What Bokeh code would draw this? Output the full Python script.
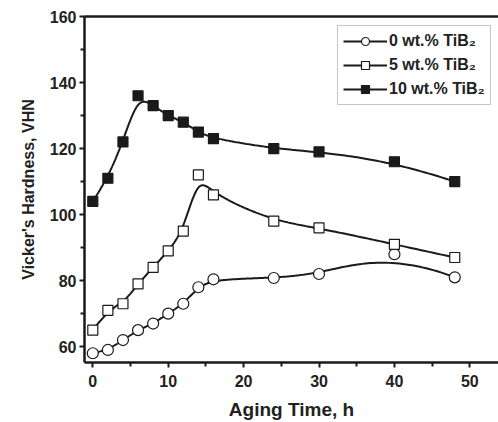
import numpy as np
from bokeh.plotting import figure
from bokeh.models import Range1d, LinearAxis, Legend, LegendItem, FixedTicker
from bokeh.embed import file_html
from bokeh.resources import INLINE

# data
time_h = [0, 2, 4, 6, 8, 10, 12, 14, 16, 24, 30, 40, 48]
tib2_0 = [58, 59, 62, 65, 67, 70, 73, 78, 80.4, 80.8, 82, 88, 81]
tib2_5 = [65, 71, 73, 79, 84, 89, 95, 112, 106, 98, 96, 91, 87]
tib2_10 = [104, 111, 122, 136, 133, 130, 128, 125, 123, 120, 119, 116, 110]
labels = ["0 wt.% TiB\u2082", "5 wt.% TiB\u2082", "10 wt.% TiB\u2082"]
x_ticks = [0, 10, 20, 30, 40, 50]
y_ticks = [60, 80, 100, 120, 140, 160]


def bspline(xs, ys, n=400):
    """Cubic B-spline using the data points as control points (Origin style)."""
    P = np.column_stack([xs, ys]).astype(float)
    k = 3
    m = len(P)
    inner = np.arange(1, m - k)
    knots = np.concatenate([[0] * (k + 1), inner, [m - k] * (k + 1)]).astype(float)
    ts = np.linspace(0, m - k, n)
    out = []
    for t in ts:
        if t >= knots[-1]:
            out.append(P[-1]); continue
        s = np.searchsorted(knots, t, side="right") - 1
        d = [P[j + s - k].copy() for j in range(k + 1)]
        for r in range(1, k + 1):
            for j in range(k, r - 1, -1):
                i = j + s - k
                a = (t - knots[i]) / (knots[i + k + 1 - r] - knots[i])
                d[j] = (1 - a) * d[j - 1] + a * d[j]
        out.append(d[k])
    out = np.array(out)
    return out[:, 0], out[:, 1]


FONT = "Liberation Sans"
INK = "#1a1a1a"
p = figure(width=498, height=422, output_backend="svg", toolbar_location=None,
           x_range=Range1d(-1.1, 53.8), y_range=Range1d(55.2, 160),
           min_border_left=84, min_border_right=0, min_border_top=16, min_border_bottom=60)
p.outline_line_color = None
p.grid.visible = False

for ax in (p.xaxis[0], p.yaxis[0]):
    ax.axis_line_width = 2.5
    ax.axis_line_color = INK
    ax.major_tick_line_width = 2
    ax.minor_tick_line_width = 2
    ax.major_tick_line_color = INK
    ax.minor_tick_line_color = INK
    ax.major_tick_out = 5
    ax.major_tick_in = 0
    ax.minor_tick_out = 4
    ax.minor_tick_in = 0
    ax.major_label_text_font = FONT
    ax.major_label_text_font_style = "bold"
    ax.major_label_text_font_size = "16px"
    ax.major_label_text_color = "#222222"
    ax.axis_label_text_font = FONT
    ax.axis_label_text_font_style = "bold"
    ax.axis_label_text_color = "#222222"

p.xaxis[0].ticker = FixedTicker(ticks=x_ticks, minor_ticks=[5, 15, 25, 35, 45])
p.yaxis[0].ticker = FixedTicker(ticks=y_ticks, minor_ticks=[70, 90, 110, 130, 150])
p.xaxis.axis_label = "Aging Time, h"
p.yaxis.axis_label = "Vicker's Hardness, VHN"
p.xaxis.axis_label_text_font_size = "19px"
p.yaxis.axis_label_text_font_size = "16px"
p.xaxis.major_label_standoff = 7
p.xaxis.axis_label_standoff = 9
p.yaxis.major_label_standoff = 3
p.yaxis.axis_label_standoff = 10

top = LinearAxis(axis_line_width=2.5, axis_line_color=INK, major_tick_line_color=None,
                 minor_tick_line_color=None, major_label_text_font_size="0px",
                 major_label_text_color=None)
p.add_layout(top, "above")

items = []
for ys, lab, marker, fill in [(tib2_0, labels[0], "circle", "white"),
                              (tib2_5, labels[1], "square", "white"),
                              (tib2_10, labels[2], "square", INK)]:
    cx, cy = bspline(time_h, ys)
    ln = p.line(cx, cy, line_width=2, line_color=INK)
    size = 11 if marker == "circle" else 10
    mk = p.scatter(time_h, ys, marker=marker, size=size, fill_color=fill,
                   line_color=INK, line_width=1.2)
    items.append(LegendItem(label=lab, renderers=[ln, mk]))

legend = Legend(items=items, location=(253, 257))
legend.label_text_font = FONT
legend.label_text_font_style = "bold"
legend.label_text_font_size = "16px"
legend.label_text_color = "#222222"
legend.border_line_color = "#8a8a8a"
legend.border_line_width = 1.5
legend.glyph_width = 44
legend.glyph_height = 20
legend.label_standoff = 2
legend.spacing = 4
legend.padding = 5
legend.margin = 0
legend.label_height = 20
p.add_layout(legend)

open("out.html", "w").write(file_html(p, INLINE))
